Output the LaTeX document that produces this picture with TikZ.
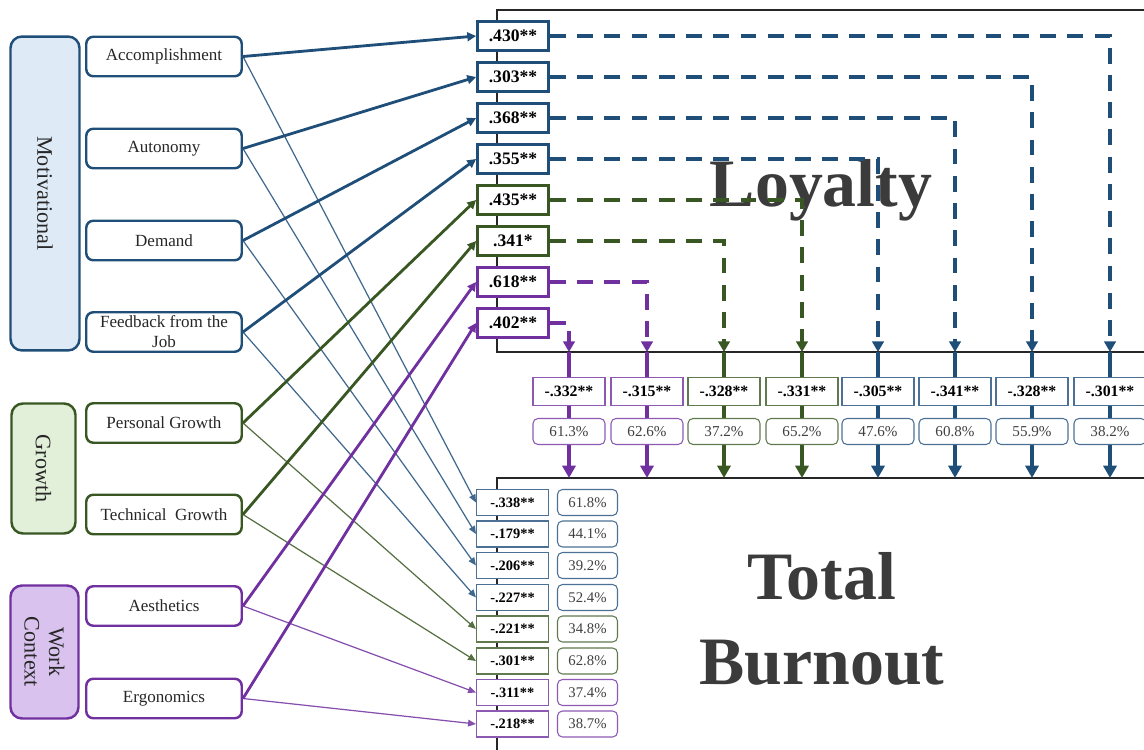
\documentclass[tikz,border=0pt]{standalone}
\usepackage{fontspec}
\setmainfont{Liberation Serif}
\usepackage{tikz}
\usetikzlibrary{arrows.meta}
\definecolor{motivBlue}{HTML}{1F4E79}
\definecolor{motivFill}{HTML}{DEEBF7}
\definecolor{growthGreen}{HTML}{385723}
\definecolor{growthFill}{HTML}{E2F0D9}
\definecolor{contextPurple}{HTML}{7030A0}
\definecolor{contextFill}{HTML}{D9C3EE}
\definecolor{titleGray}{HTML}{3B3B3B}
\definecolor{textGray}{HTML}{404040}

\begin{document}
\begin{tikzpicture}[x=0.02cm,y=-0.02cm,
  group/.style 2 args={draw=#1,fill=#2,line width=1.4pt,rounded corners=6.5pt,rotate=-90,
    align=center,text=black!85,font=\fontsize{12.6}{14}\selectfont},
  item/.style={draw=#1,line width=1.4pt,rounded corners=4pt,minimum width=3.11cm,
    minimum height=0.79cm,inner sep=1pt,align=center,text=black!85,
    font=\fontsize{9.7}{11.3}\selectfont},
  coef/.style={draw=#1,fill=white,line width=1.6pt,minimum width=1.42cm,
    minimum height=0.58cm,inner sep=1pt,font=\bfseries\fontsize{10}{12}\selectfont},
  midcoef/.style={draw=#1!80,fill=white,line width=0.6pt,minimum width=1.44cm,
    minimum height=0.56cm,inner sep=1pt,font=\bfseries\fontsize{9}{10}\selectfont},
  midpct/.style={draw=#1!80,fill=white,line width=0.6pt,rounded corners=2.8pt,
    minimum width=1.44cm,minimum height=0.52cm,inner sep=1pt,text=textGray,
    font=\fontsize{8.6}{10}\selectfont},
  lowcoef/.style={draw=#1!80,fill=white,line width=0.6pt,minimum width=1.44cm,
    minimum height=0.52cm,inner sep=1pt,font=\bfseries\fontsize{8.2}{10}\selectfont},
  lowpct/.style={draw=#1!80,fill=white,line width=0.6pt,rounded corners=2.8pt,
    minimum width=1.2cm,minimum height=0.52cm,inner sep=1pt,text=textGray,
    font=\fontsize{8.4}{10}\selectfont},
  frameLine/.style={line width=0.75pt,black!85},
  thickArrow/.style={line width=1.6pt,-{Triangle[length=5pt,width=5pt]}},
  thinArrow/.style={line width=0.7pt,-{Triangle[length=4.5pt,width=3.8pt]}},
  dashArrow/.style={line width=2pt,dash pattern=on 9pt off 6.5pt,
    -{Triangle[length=6pt,width=6.5pt]}},
  downArrow/.style={line width=1.8pt,-{Triangle[length=7pt,width=7.4pt]}},
  bigTitle/.style={text=titleGray,align=center,font=\bfseries\fontsize{38.6}{48}\selectfont}]
\useasboundingbox (0,0) rectangle (1144,750);

% outcome panels
\draw[frameLine] (1144,10) -| (497,352) -- (1144,352);
\draw[frameLine] (1144,478) -| (497,750);
\node[bigTitle,anchor=base] (loy) at (821,207) {Loyalty};
\node[bigTitle] (bur) at (822,619) {Total\\Burnout};

% mediation columns
\foreach \j/\xx/\cf/\pc/\col in {1/569/-.332**/61.3\%/contextPurple,
    2/647/-.315**/62.6\%/contextPurple, 3/724/-.328**/37.2\%/growthGreen,
    4/802/-.331**/65.2\%/growthGreen, 5/878/-.305**/47.6\%/motivBlue,
    6/955/-.341**/60.8\%/motivBlue, 7/1032/-.328**/55.9\%/motivBlue,
    8/1110/-.301**/38.2\%/motivBlue}{
  \coordinate (c\j) at (\xx,352);
  \coordinate (d\j) at (\xx,478);
  \draw[downArrow,\col] (c\j) -- (d\j);
  \node[midcoef=\col] (mc\j) at (\xx,391.5) {\cf};
  \node[midpct=\col] (mp\j) at (\xx,431.5) {\pc};
}

% loyalty coefficients
\foreach \i/\yy/\val/\col in {1/36/.430**/motivBlue, 2/77/.303**/motivBlue,
    3/118/.368**/motivBlue, 4/159/.355**/motivBlue, 5/200/.435**/growthGreen,
    6/241/.341*/growthGreen, 7/282/.618**/contextPurple, 8/323/.402**/contextPurple}
  \node[coef=\col] (t\i) at (513,\yy) {\val};
\foreach \i/\j/\col in {1/8/motivBlue, 2/7/motivBlue, 3/6/motivBlue, 4/5/motivBlue,
    5/4/growthGreen, 6/3/growthGreen, 7/2/contextPurple, 8/1/contextPurple}
  \draw[dashArrow,\col] (t\i.east) -| (c\j);

% burnout coefficients
\foreach \i/\yy/\cf/\pc/\col in {1/502.5/-.338**/61.8\%/motivBlue,
    2/534/-.179**/44.1\%/motivBlue, 3/565.5/-.206**/39.2\%/motivBlue,
    4/597.5/-.227**/52.4\%/motivBlue, 5/629/-.221**/34.8\%/growthGreen,
    6/661/-.301**/62.8\%/growthGreen, 7/692.5/-.311**/37.4\%/contextPurple,
    8/724/-.218**/38.7\%/contextPurple}{
  \node[lowcoef=\col] (b\i) at (512.5,\yy) {\cf};
  \node[lowpct=\col] (p\i) at (587.5,\yy) {\pc};
}

% predictor groups
\node[group={motivBlue}{motivFill},minimum width=6.28cm,minimum height=1.38cm] (mot) at (45,193.5) {Motivational};
\node[group={growthGreen}{growthFill},minimum width=2.6cm,minimum height=1.28cm] (gro) at (43.5,468.5) {Growth};
\node[group={contextPurple}{contextFill},minimum width=2.66cm,minimum height=1.36cm] (wcx) at (44.5,652) {Work\\Context};

\foreach \nm/\yy/\txt/\col in {acc/56.5/Accomplishment/motivBlue,
    aut/148.5/Autonomy/motivBlue, dem/240.5/Demand/motivBlue,
    fee/332/{Feedback from the\\Job}/motivBlue, pgr/423/Personal Growth/growthGreen,
    tgr/514.5/Technical~ Growth/growthGreen, aes/606/Aesthetics/contextPurple,
    erg/698.5/Ergonomics/contextPurple}
  \node[item=\col] (\nm) at (164,\yy) {\txt};

% paths to both outcomes
\foreach \nm/\i/\col in {acc/1/motivBlue, aut/2/motivBlue, dem/3/motivBlue,
    fee/4/motivBlue, pgr/5/growthGreen, tgr/6/growthGreen,
    aes/7/contextPurple, erg/8/contextPurple}{
  \draw[thinArrow,\col!85] (\nm.east) -- (b\i.west);
  \draw[thickArrow,\col] (\nm.east) -- (t\i.west);
}
\end{tikzpicture}
\end{document}
